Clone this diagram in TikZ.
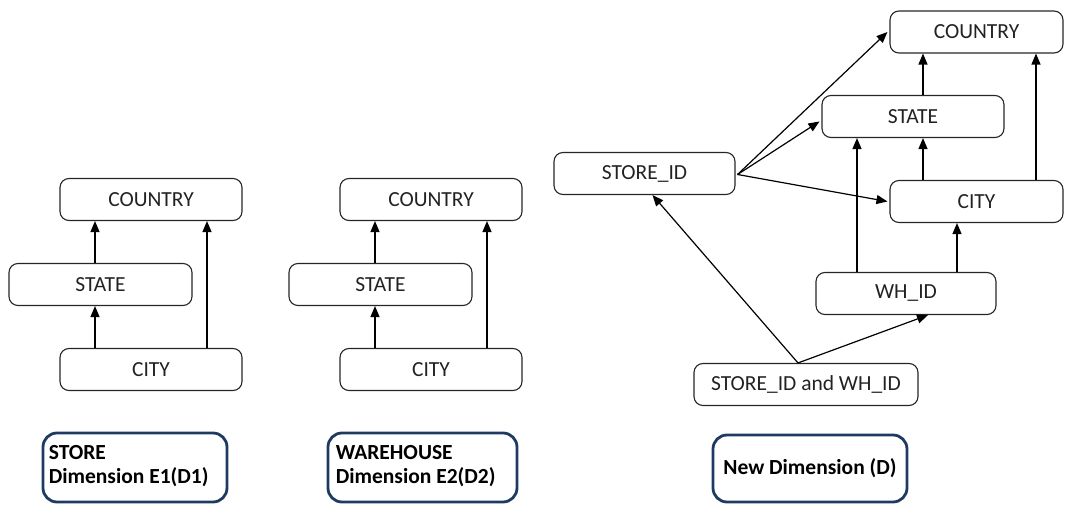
\documentclass[tikz,border=0pt]{standalone}
\usepackage{fontspec}
\setmainfont{Carlito}
\usetikzlibrary{arrows.meta}
\definecolor{navy}{HTML}{1F3A60}
\definecolor{txt}{HTML}{222222}
\begin{document}
\begin{tikzpicture}[x=1pt,y=-1pt,
  box/.style={draw=black!85, line width=1.1pt, rounded corners=9pt, minimum height=42pt, inner sep=0pt, text=txt, font=\fontsize{21.5}{24}\selectfont},
  arr/.style={draw=black, line width=1.2pt, -{Triangle[length=11pt,width=9pt]}},
  lab/.style={draw=navy, line width=2.8pt, rounded corners=14pt, inner sep=0pt, font=\bfseries\fontsize{21.5}{24}\selectfont},
  labtext/.style={inner sep=0pt, anchor=west, align=left, font=\bfseries\fontsize{21.5}{24}\selectfont}]
\useasboundingbox (0,0) rectangle (1069,505);
% left group
\node[box, minimum width=182pt] (c1) at (151,199.5) {COUNTRY};
\node[box, minimum width=183pt] (s1) at (100.5,284.5) {STATE};
\node[box, minimum width=182pt] (y1) at (151,369.5) {CITY};
\draw[arr] ([xshift=-56pt]y1.north) -- ([xshift=-56pt]y1.north |- s1.south);
\draw[arr] ([xshift=-56pt]c1.south |- s1.north) -- ([xshift=-56pt]c1.south);
\draw[arr] ([xshift=56pt]y1.north) -- ([xshift=56pt]c1.south);
% middle group
\node[box, minimum width=182pt] (c2) at (431,199.5) {COUNTRY};
\node[box, minimum width=183pt] (s2) at (380.5,284.5) {STATE};
\node[box, minimum width=182pt] (y2) at (431,369.5) {CITY};
\draw[arr] ([xshift=-56pt]y2.north) -- ([xshift=-56pt]y2.north |- s2.south);
\draw[arr] ([xshift=-56pt]c2.south |- s2.north) -- ([xshift=-56pt]c2.south);
\draw[arr] ([xshift=56pt]y2.north) -- ([xshift=56pt]c2.south);
% right group
\node[box, minimum width=173pt] (rc) at (976.5,32) {COUNTRY};
\node[box, minimum width=182pt] (rs) at (913,116.5) {STATE};
\node[box, minimum width=181pt] (sid) at (644.5,173.5) {STORE\_ID};
\node[box, minimum width=173pt] (rcity) at (976.5,201.5) {CITY};
\node[box, minimum width=180pt] (wh) at (906,293.5) {WH\_ID};
\node[box, minimum width=224pt] (sw) at (806,384.5) {STORE\_ID and WH\_ID};
\draw[arr] ([xshift=10pt]rs.north) -- ([xshift=10pt]rs.north |- rc.south);
\draw[arr] ([xshift=59.5pt]rcity.north) -- ([xshift=59.5pt]rc.south);
\draw[arr] ([xshift=-53.5pt]rcity.north) -- ([xshift=-53.5pt]rcity.north |- rs.south);
\draw[arr] ([xshift=-49pt]wh.north) -- ([xshift=-49pt]wh.north |- rs.south);
\draw[arr] ([xshift=51pt]wh.north) -- ([xshift=51pt]wh.north |- rcity.south);
\draw[arr] ([shift={(2pt,-1pt)}]sid.east) -- ([xshift=-2pt]rc.west);
\draw[arr] ([shift={(2pt,-1pt)}]sid.east) -- ([shift={(-2pt,-5pt)}]rs.west);
\draw[arr] ([shift={(2pt,-1pt)}]sid.east) -- ([xshift=-2pt]rcity.west);
\draw[arr] ([xshift=-8pt]sw.north) -- ([xshift=8pt]sid.south);
\draw[arr] ([xshift=-8pt]sw.north) -- ([xshift=22pt]wh.south);
% labels
\node[lab, minimum width=184pt, minimum height=69pt] (l1) at (135,467.5) {};
\node[labtext] (t1) at ([xshift=7pt,yshift=1pt]l1.west) {STORE\\Dimension E1(D1)};
\node[lab, minimum width=189pt, minimum height=69pt] (l2) at (422.5,467.5) {};
\node[labtext] (t2) at ([xshift=9pt,yshift=1pt]l2.west) {WAREHOUSE\\Dimension E2(D2)};
\node[lab, minimum width=194pt, minimum height=67pt, font=\bfseries\fontsize{21.5}{24}\selectfont] (l3) at (810,468.5) {New Dimension (D)};
\end{tikzpicture}
\end{document}
